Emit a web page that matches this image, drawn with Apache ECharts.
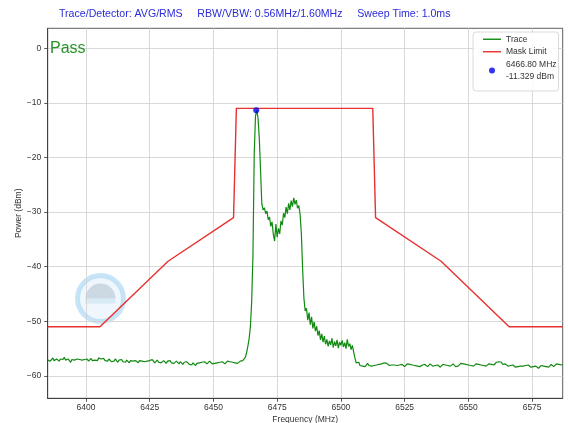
<!DOCTYPE html>
<html>
<head>
<meta charset="utf-8">
<script src="https://cdn.jsdelivr.net/npm/echarts@6/dist/echarts.min.js"></script>
<style>
html,body{margin:0;padding:0;background:#fff;}
#chart{width:568px;height:423px;}
</style>
</head>
<body>
<div id="chart"></div>
<script>
// ---------------- data ----------------
const titleText = 'Trace/Detector: AVG/RMS     RBW/VBW: 0.56MHz/1.60MHz     Sweep Time: 1.0ms';
const xTicks = [6400, 6425, 6450, 6475, 6500, 6525, 6550, 6575];
const yTicks = [-60, -50, -40, -30, -20, -10, 0];
const traceStep = 0.5;

// left noise floor, starts at 6385 MHz
const floorLeftStart = 6385;
const floorLeft = [
  -57.1,-56.8,-57.3,-57.0,-56.7,-57.2,-57.4,-56.9,-57.1,-57.3,
  -56.9,-57.2,-57.0,-56.6,-57.1,-57.3,-56.9,-57.2,-57.5,-57.0,
  -56.8,-57.1,-57.3,-56.9,-57.2,-57.0,-56.7,-57.1,-57.4,-57.0,
  -57.2,-56.9,-57.3,-57.1,-56.8,-57.2,-57.5,-57.1,-56.9,-57.2,
  -56.7,-56.4,-56.9,-57.1,-56.8,-57.2,-57.0,-57.3,-56.9,-57.1,
  -57.4,-57.1,-57.3,-56.9,-57.2,-57.5,-57.1,-57.3,-57.0,-57.4,
  -57.2,-57.5,-57.1,-57.4,-57.6,-57.2,-57.0,-57.3,-57.5,-57.2,
  -57.4,-57.6,-57.2,-57.5,-57.3,-57.1,-57.4,-57.6,-57.3,-57.5,
  -57.2,-57.4,-57.0,-57.3,-57.6,-57.4,-57.1,-57.5,-57.3,-57.6,
  -57.4,-57.2,-57.5,-57.7,-57.3,-57.5,-57.2,-57.6,-57.4,-57.7,
  -57.5,-57.3,-57.6,-57.8,-57.4,-57.6,-57.9,-57.5,-57.7,-57.4,
  -57.6,-57.9,-57.7,-58.0,-57.6,-57.8,-58.1,-57.7,-57.9,-57.6,
  -57.8,-57.5,-57.7,-57.4,-57.6,-57.8,-57.5,-57.3,-57.6,-57.8,
  -57.5,-57.7,-57.4,-57.6,-57.3,-57.5,-57.7,-57.4,-57.6,-57.8,
  -57.5,-57.3,-57.6,-57.4,-57.7,-57.5,-57.2,-57.6,-57.4,-57.7,
  -57.5,-57.3,-57.6,-57.2
];

// signal region, starts at 6462 MHz
const signalStart = 6462;
const signal = [
  -57.0,-56.6,-55.8,-54.6,-53.2,-51.0,-46.5,-38.0,
  -19.5,-12.4,-11.35,-12.8,-16.5,-22.5,-28.6,-29.6,
  -29.2,-30.3,-29.8,-31.4,-30.9,-32.6,-31.8,-34.1,
  -35.3,-32.2,-34.6,-33.0,-34.0,-31.6,-32.4,-30.2,
  -31.0,-29.1,-30.3,-28.4,-29.6,-27.9,-29.0,-27.4,
  -28.6,-27.8,-29.3,-28.8,-30.4,-34.0,-40.5,-45.8,
  -48.1,-47.6,-49.8,-48.4,-50.6,-49.2,-51.3,-50.1,
  -51.8,-50.9,-52.6,-51.7,-53.4,-52.3,-53.8,-52.7,
  -54.2,-53.3,-54.6,-53.6,-54.3,-53.1,-54.8,-53.7,
  -54.5,-53.4,-54.9,-53.8,-54.4,-53.5,-54.7,-53.9,
  -55.0,-53.3,-54.6,-54.1,-55.2,-54.4,-55.6,-56.7,
  -57.6,-57.9,-57.5
];

// right noise floor, starts at 6507.5 MHz
const floorRightStart = 6507.5;
const floorRight = [
  -58.1,-57.8,-58.2,-57.9,-58.3,-58.0,-57.7,-58.1,-57.9,
  -58.2,-57.9,-58.1,-57.8,-58.0,-58.3,-57.9,-58.1,-57.8,-58.0,
  -57.6,-57.4,-57.7,-57.9,-58.1,-57.8,-58.0,-58.2,-58.0,-58.3,
  -58.1,-58.3,-58.0,-58.2,-57.9,-58.1,-58.3,-58.0,-57.8,-58.1,
  -57.9,-58.2,-58.0,-57.7,-58.1,-57.9,-58.2,-58.0,-58.3,-58.1,
  -58.0,-58.2,-57.9,-58.1,-58.3,-58.0,-57.8,-58.1,-58.2,-57.9,
  -58.1,-58.3,-58.0,-58.2,-58.4,-58.1,-57.9,-58.2,-58.0,-58.3,
  -58.1,-57.9,-58.2,-58.0,-57.8,-58.1,-58.3,-58.0,-58.2,-57.9,
  -57.7,-58.0,-57.8,-58.1,-57.9,-58.2,-58.0,-57.8,-58.1,-57.9,
  -58.2,-58.0,-57.8,-58.1,-57.9,-58.2,-58.0,-58.3,-58.1,-57.9,
  -58.2,-58.0,-57.8,-57.6,-57.9,-57.7,-58.0,-57.8,-57.5,-57.8,
  -57.4,-57.7,-57.5,-57.9,-58.1,-57.8,-58.0,-58.2,-57.9,-58.1,
  -58.3,-58.0,-58.2,-58.4,-58.1,-58.3,-58.0,-58.2,-58.5,-58.2,
  -58.4,-58.1,-58.3,-58.0,-58.2,-58.4,-58.1,-58.3,-58.5,-58.2,
  -58.4,-58.6,-58.3,-58.1,-58.4,-58.2,-58.0,-58.3,-58.1,-58.4,
  -58.2,-57.9,-58.1,-58.3,-58.0,-57.8,-58.1,-57.9,-58.2,-58.0,
  -57.9
];

// mask limit
const maskFreq  = [6385, 6405.5, 6432.2, 6457.9, 6459.0, 6512.5, 6513.6, 6539.3, 6566.0, 6587];
const maskLevel = [-51,  -51,    -39,    -31,    -11,    -11,    -31,    -39,    -51,    -51];

// peak marker
const peakFreq = 6466.8;
const peakLevel = -11.329;
const peakLabel = '6466.80 MHz\n-11.329 dBm';

const passText = 'Pass';

// ---------------- build ----------------
function seg(start, arr) { return arr.map((v, i) => [start + i * traceStep, v]); }
const traceData = [].concat(seg(floorLeftStart, floorLeft), seg(signalStart, signal), seg(floorRightStart, floorRight));
const maskData = maskFreq.map((f, i) => [f, maskLevel[i]]);

const FONT = 'Liberation Sans';
const minus = v => (v < 0 ? '\u2212' + Math.abs(v) : String(v));
const lineIcon = 'path://M0,0H18V1.4H0Z';

const chart = echarts.init(document.getElementById('chart'), null, {renderer: 'canvas'});
chart.setOption({
  animation: false,
  backgroundColor: '#ffffff',
  textStyle: {fontFamily: FONT},
  title: {
    text: titleText,
    left: 54, top: 4,
    textStyle: {fontSize: 10.6, fontWeight: 'normal', color: '#2b2bd9', fontFamily: FONT}
  },
  grid: {
    left: 47.7, right: 5.3, top: 28.3, bottom: 24.7,
    outerBoundsMode: 'none', containLabel: false,
    show: true, borderColor: '#333', borderWidth: 0.8, backgroundColor: '#fff'
  },
  legend: {
    orient: 'vertical',
    left: 473, top: 32,
    backgroundColor: 'rgba(255,255,255,0.85)',
    borderColor: '#d0d0d0', borderWidth: 0.8, borderRadius: 3,
    padding: [1, 2, 8, 10],
    itemGap: 0,
    itemWidth: 18, itemHeight: 6,
    symbolKeepAspect: true,
    textStyle: {fontSize: 8.5, color: '#333', fontFamily: FONT, lineHeight: 12.5},
    data: [
      {name: 'Trace', icon: lineIcon},
      {name: 'Mask Limit', icon: lineIcon},
      {name: peakLabel, icon: 'circle'}
    ]
  },
  xAxis: {
    type: 'value', min: 6385, max: 6587,
    name: 'Frequency (MHz)', nameLocation: 'middle', nameGap: 17, nameMoveOverlap: false,
    nameTextStyle: {fontSize: 8.5, color: '#333', fontFamily: FONT},
    axisLine: {show: true, onZero: false, lineStyle: {color: '#333', width: 0.8}},
    axisTick: {show: true, customValues: xTicks, length: 3.5, lineStyle: {color: '#333', width: 0.8}},
    axisLabel: {customValues: xTicks, fontSize: 8.5, color: '#333', margin: 5, fontFamily: FONT, formatter: v => String(v)},
    splitLine: {show: true, lineStyle: {color: '#cfcfcf', width: 0.8}}
  },
  yAxis: {
    type: 'value', min: -64.1, max: 3.66,
    name: 'Power (dBm)', nameLocation: 'middle', nameGap: 25, nameMoveOverlap: false,
    nameTextStyle: {fontSize: 8.5, color: '#333', fontFamily: FONT},
    axisLine: {show: true, onZero: false, lineStyle: {color: '#333', width: 0.8}},
    axisTick: {show: true, customValues: yTicks, length: 3.5, lineStyle: {color: '#333', width: 0.8}},
    axisLabel: {customValues: yTicks, fontSize: 8.5, color: '#333', margin: 6.5, fontFamily: FONT, formatter: minus},
    splitLine: {show: true, lineStyle: {color: '#cfcfcf', width: 0.8}}
  },
  graphic: [
    {
      type: 'group', z: 1, left: 75, top: 273,
      children: [
        {type: 'circle', shape: {cx: 25, cy: 25, r: 23}, style: {fill: 'rgba(225,241,251,0.55)', stroke: 'rgba(170,215,242,0.65)', lineWidth: 5}},
        {type: 'sector', shape: {cx: 25, cy: 25, r: 15, startAngle: Math.PI, endAngle: 2 * Math.PI}, style: {fill: 'rgba(170,185,200,0.5)'}},
        {type: 'rect', shape: {x: 10, y: 25, width: 30, height: 5}, style: {fill: 'rgba(200,225,242,0.6)'}}
      ]
    },
    {
      type: 'text', z: 10, left: 50, top: 41,
      style: {text: passText, fontSize: 16, fill: '#2a922a', fontFamily: FONT}
    }
  ],
  series: [
    {
      name: 'Trace', type: 'line', data: traceData, showSymbol: false, symbol: 'none',
      lineStyle: {color: '#118a11', width: 1.2}, itemStyle: {color: '#118a11'}, z: 3
    },
    {
      name: 'Mask Limit', type: 'line', data: maskData, showSymbol: false, symbol: 'none',
      lineStyle: {color: '#e8302f', width: 1.4}, itemStyle: {color: '#e8302f'}, z: 4
    },
    {
      name: peakLabel, type: 'scatter', data: [[peakFreq, peakLevel]], symbolSize: 6,
      itemStyle: {color: '#0000ee'}, z: 5
    }
  ]
});
</script>
</body>
</html>
